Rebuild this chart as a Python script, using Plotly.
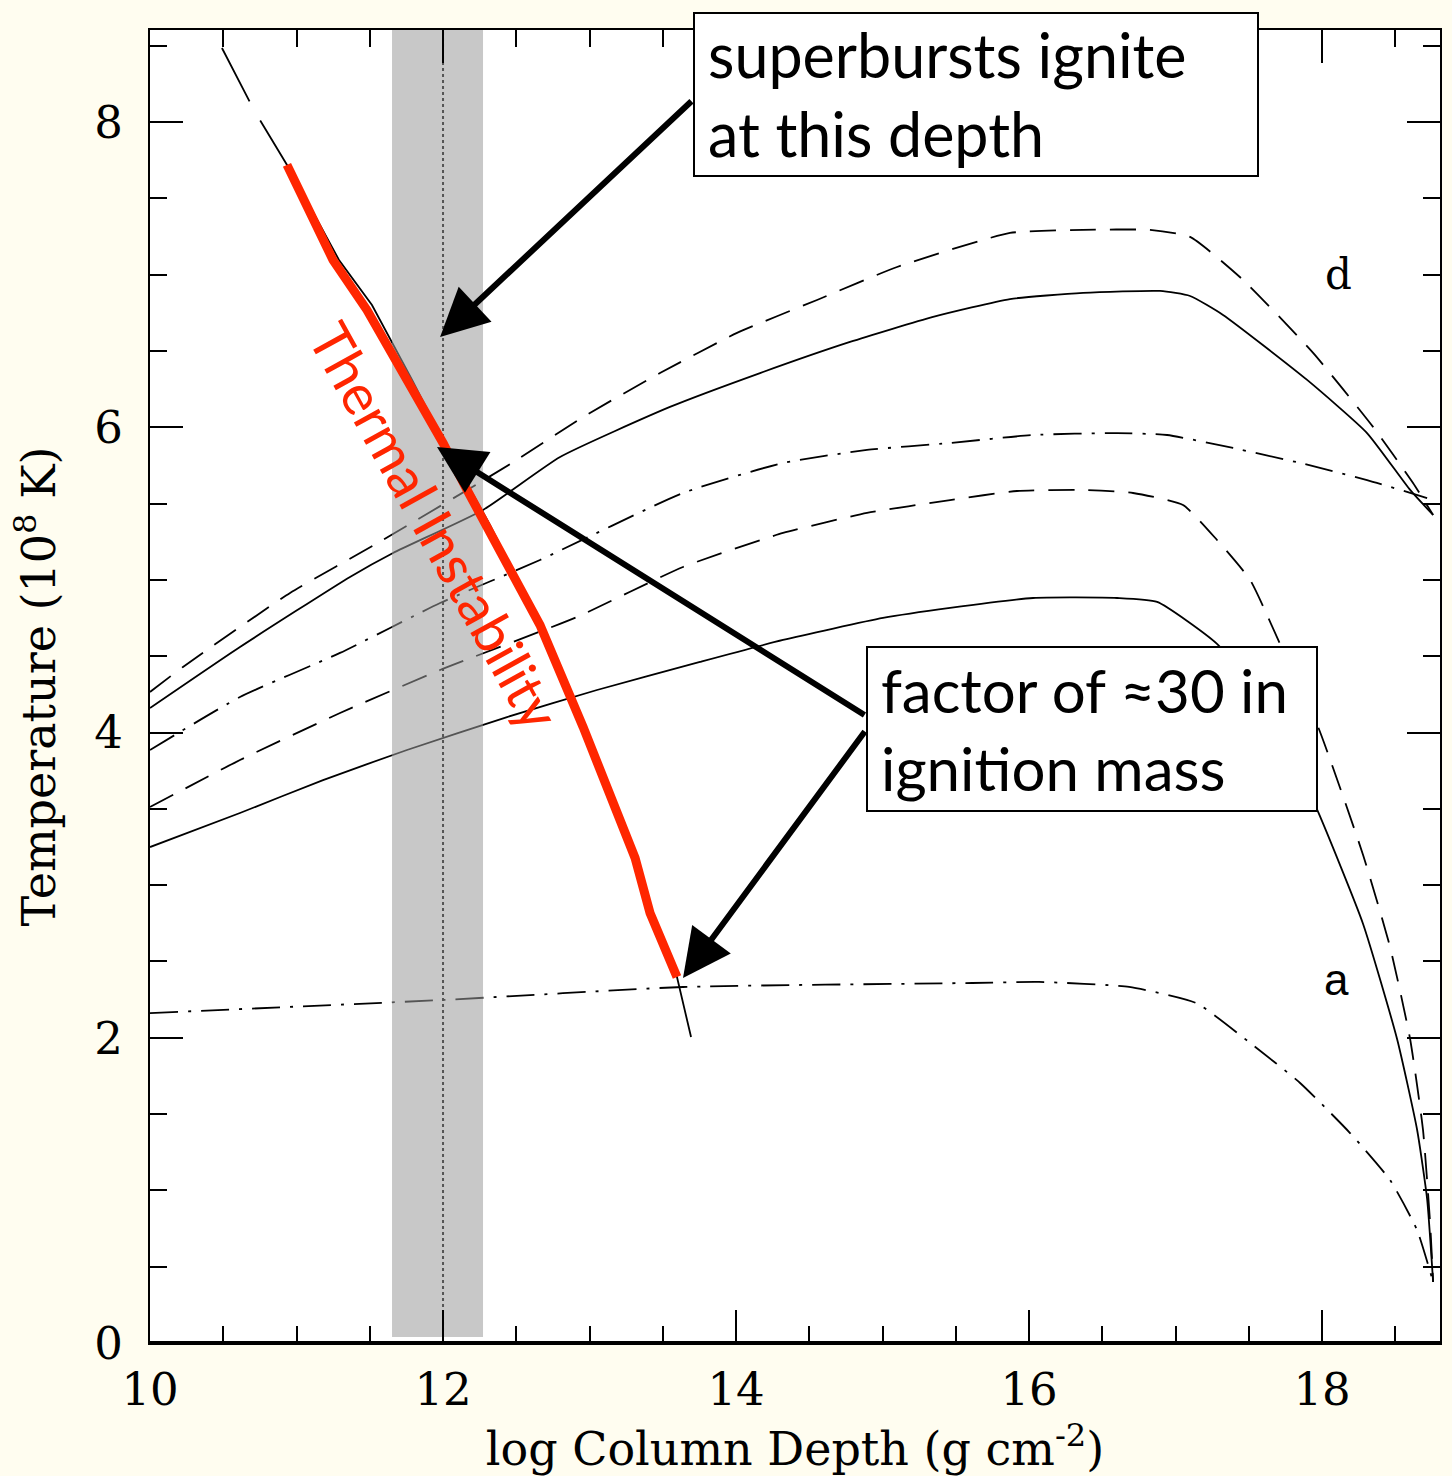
import plotly.graph_objects as go

# ---------------- data (log column depth [g cm^-2], temperature [1e8 K]) -------------
c1_x = [10.000, 10.225, 10.956, 11.590, 12.471, 12.956, 13.481, 14.007, 14.553, 15.099,
        15.870, 16.369, 16.826, 17.099, 17.461, 17.939, 18.348, 18.621, 18.758]
c1_y = [4.266, 4.430, 4.915, 5.262, 5.767, 6.068, 6.356, 6.619, 6.835, 7.051,
        7.274, 7.294, 7.294, 7.248, 6.966, 6.488, 6.003, 5.636, 5.426]

c2_x = [10.000, 10.614, 11.365, 11.659, 12.273, 12.799, 13.549, 14.164, 14.778, 15.345,
        15.870, 16.369, 16.894, 17.099, 17.324, 17.898, 18.307, 18.601, 18.758]
c2_y = [4.161, 4.561, 5.020, 5.177, 5.459, 5.806, 6.134, 6.356, 6.560, 6.724,
        6.841, 6.881, 6.894, 6.861, 6.737, 6.311, 5.963, 5.590, 5.426]

c3_x = [10.000, 10.614, 11.297, 11.980, 12.662, 13.638, 14.321, 14.894, 15.461, 16.027,
        16.601, 16.942, 17.392, 17.850, 18.307, 18.717]
c3_y = [3.886, 4.233, 4.522, 4.849, 5.131, 5.570, 5.767, 5.852, 5.898, 5.950,
        5.963, 5.950, 5.865, 5.767, 5.655, 5.537]

c4_x = [10.000, 10.614, 11.297, 11.980, 12.915, 13.638, 14.321, 14.894, 15.461, 15.918,
        16.369, 16.710, 17.051, 17.283, 17.509, 17.713, 17.973, 18.280, 18.464, 18.601,
        18.689, 18.737, 18.758]
c4_y = [3.512, 3.820, 4.128, 4.410, 4.758, 5.085, 5.308, 5.439, 5.524, 5.583,
        5.590, 5.570, 5.491, 5.262, 5.000, 4.581, 4.037, 3.198, 2.595, 1.992,
        1.396, 0.793, 0.400]

c5_x = [10.000, 10.614, 11.181, 11.754, 12.437, 13.051, 13.754, 14.321, 15.003, 15.461,
        16.027, 16.601, 16.874, 17.283, 17.645, 17.973, 18.280, 18.512, 18.649, 18.717,
        18.758]
c5_y = [3.250, 3.473, 3.689, 3.886, 4.102, 4.279, 4.463, 4.607, 4.751, 4.817,
        4.882, 4.882, 4.856, 4.581, 4.148, 3.480, 2.746, 1.992, 1.396, 0.944,
        0.400]

c6_x = [10.000, 12.000, 13.638, 15.611, 16.068, 16.683, 17.140, 17.509, 17.850, 18.191,
        18.464, 18.648, 18.758]
c6_y = [2.162, 2.248, 2.333, 2.359, 2.366, 2.333, 2.228, 1.966, 1.704, 1.376,
        1.068, 0.741, 0.400]

# ignition curve (black): dashed upper part, solid lower part
ign_dash_x = [10.491, 10.717, 10.956]
ign_dash_y = [8.486, 8.067, 7.687]
ign_solid_x = [10.956, 11.290, 11.515, 11.789, 12.000, 12.321, 12.628, 12.956, 13.311, 13.413, 13.597, 13.693]
ign_solid_y = [7.687, 7.097, 6.802, 6.311, 5.917, 5.360, 4.771, 4.037, 3.178, 2.818, 2.398, 2.005]

# thermal instability (red)
red_x = [10.935, 11.249, 11.481, 12.000, 12.164, 12.573, 12.662, 12.956, 13.311, 13.413, 13.597]
red_y = [7.720, 7.097, 6.769, 5.898, 5.590, 4.869, 4.705, 4.037, 3.178, 2.818, 2.398]

# superburst ignition band
band_x = [11.652, 12.273]
band_y = [0.04, 8.604]
ign_depth = 12.0

x_range = [10.0, 18.805]
y_range = [0.0, 8.604]
x_ticks = [10, 12, 14, 16, 18]
y_ticks = [0, 2, 4, 6, 8]

# ---------------- figure -------------
fig = go.Figure()
LW = 1.8
dash_s = "26px,14px"
dashdot_s = "28px,10px,3px,10px"

curves = [
    (c1_x, c1_y, dash_s),
    (c2_x, c2_y, "solid"),
    (c3_x, c3_y, dashdot_s),
    (c4_x, c4_y, dash_s),
    (c5_x, c5_y, "solid"),
    (c6_x, c6_y, dashdot_s),
]
for cx, cy, ds in curves:
    fig.add_trace(go.Scatter(x=cx, y=cy, mode="lines",
                             line=dict(color="black", width=LW, dash=ds,
                                       shape="spline", smoothing=0.5),
                             hoverinfo="skip", showlegend=False))

fig.add_trace(go.Scatter(x=ign_dash_x, y=ign_dash_y, mode="lines",
                         line=dict(color="black", width=LW, dash="60px,22px"),
                         showlegend=False, hoverinfo="skip"))
fig.add_trace(go.Scatter(x=ign_solid_x, y=ign_solid_y, mode="lines",
                         line=dict(color="black", width=LW),
                         showlegend=False, hoverinfo="skip"))

# translucent gray band (drawn over the curves)
fig.add_trace(go.Scatter(
    x=[band_x[0], band_x[1], band_x[1], band_x[0], band_x[0]],
    y=[band_y[0], band_y[0], band_y[1], band_y[1], band_y[0]],
    mode="lines", fill="toself", fillcolor="rgba(155,155,155,0.55)",
    line=dict(width=0), showlegend=False, hoverinfo="skip"))

fig.add_trace(go.Scatter(x=[ign_depth, ign_depth], y=[y_range[0], y_range[1]], mode="lines",
                         line=dict(color="#555555", width=2, dash="dot"),
                         showlegend=False, hoverinfo="skip"))

fig.add_trace(go.Scatter(x=red_x, y=red_y, mode="lines",
                         line=dict(color="#FF2600", width=9),
                         showlegend=False, hoverinfo="skip"))

SANS = "Lato"
SERIF = "DejaVu Serif"

annotations = []

arrows = [
    (11.980, 6.592, 13.706, 8.146),
    (11.959, 5.872, 14.887, 4.109),
    (13.638, 2.392, 14.887, 4.017),
]
for hx, hy, tx, ty in arrows:
    annotations.append(dict(x=hx, y=hy, ax=tx, ay=ty, xref="x", yref="y",
                            axref="x", ayref="y", text="", showarrow=True,
                            arrowhead=2, arrowsize=1.6, arrowwidth=6,
                            arrowcolor="black", standoff=0, startstandoff=0))

annotations += [
    # box frames
    dict(x=13.706, y=1.0137, xref="x", yref="paper", xanchor="left", yanchor="top",
         text="\u00a0", showarrow=False, width=562, height=161, borderpad=0,
         bgcolor="white", bordercolor="black", borderwidth=2,
         font=dict(family=SANS, size=20)),
    dict(x=14.887, y=4.567, xref="x", yref="y", xanchor="left", yanchor="top",
         text="\u00a0", showarrow=False, width=448, height=162, borderpad=0,
         bgcolor="white", bordercolor="black", borderwidth=2,
         font=dict(family=SANS, size=20)),
    # box texts
    dict(x=13.795, y=0.9509, xref="x", yref="paper", xanchor="left", yanchor="middle",
         text="superbursts ignite<br>at this depth", showarrow=False, align="left",
         font=dict(family=SANS, size=61, color="black")),
    dict(x=14.976, y=4.024, xref="x", yref="y", xanchor="left", yanchor="middle",
         text="factor of \u224830 in<br>ignition mass", showarrow=False, align="left",
         font=dict(family=SANS, size=60, color="black")),
    # red label
    dict(x=11.95, y=5.36, xref="x", yref="y", text="Thermal Instability", showarrow=False,
         textangle=61, font=dict(family=SANS, size=56, color="#FF2600")),
    # curve labels
    dict(x=18.109, y=7.0, xref="x", yref="y", text="d", showarrow=False,
         font=dict(family=SERIF, size=42, color="black")),
    dict(x=18.096, y=2.379, xref="x", yref="y", text="a", showarrow=False,
         font=dict(family="Liberation Sans", size=44, color="black")),
]

axis_common = dict(
    showgrid=False, zeroline=False, showline=True, linecolor="black", linewidth=2,
    mirror="allticks", ticks="inside", ticklen=33, tickwidth=2, tickcolor="black",
    minor=dict(dtick=0.5, ticklen=17, tickwidth=2, tickcolor="black", ticks="inside",
               showgrid=False),
    tickfont=dict(family=SERIF, size=45, color="black"),
    automargin=False,
)

fig.update_layout(
    width=1452, height=1476,
    margin=dict(l=150, r=12, t=30, b=133, pad=0),
    paper_bgcolor="#FFFDF0", plot_bgcolor="white",
    showlegend=False,
    annotations=annotations,
    xaxis=dict(range=x_range, tickvals=x_ticks, ticklabelstandoff=6,
               title=dict(text="log Column Depth (g cm<sup>-2</sup>)", standoff=24,
                          font=dict(family=SERIF, size=46, color="black")),
               **axis_common),
    yaxis=dict(range=y_range, tickvals=y_ticks, ticklabelstandoff=16,
               title=dict(text="Temperature (10<sup>8</sup> K)", standoff=24,
                          font=dict(family=SERIF, size=46, color="black")),
               **axis_common),
    shapes=[dict(type="line", xref="paper", yref="paper", x0=0, x1=1, y0=0, y1=0,
                 line=dict(color="black", width=4), layer="above")],
)

fig.write_html("out.html")
